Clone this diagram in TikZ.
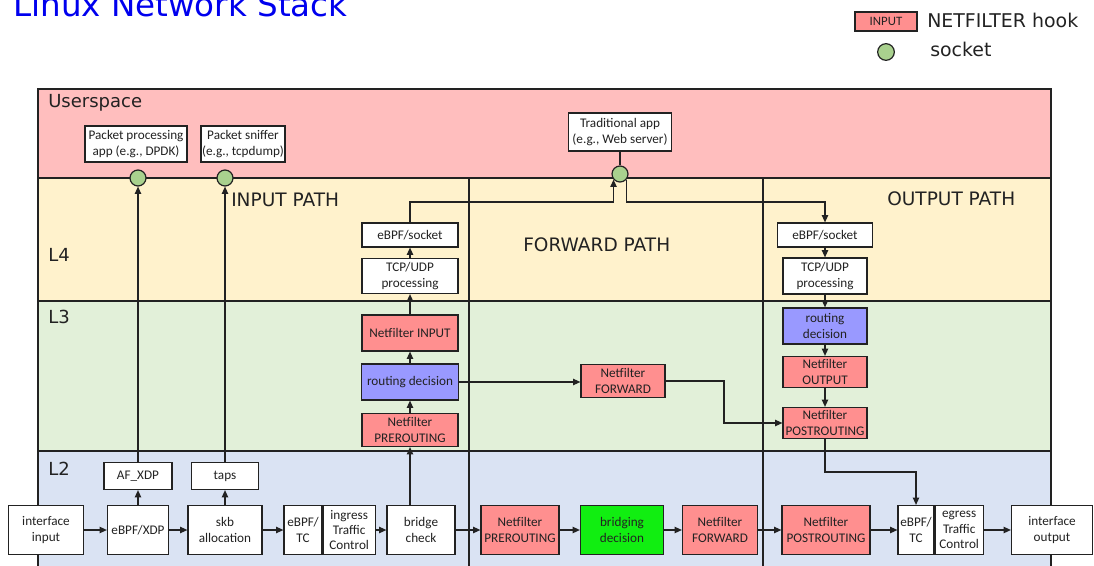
\documentclass[tikz,border=0pt]{standalone}
\usepackage{fontspec}
\setmainfont{Carlito}
\newfontfamily\verd{DejaVu Sans}
\usetikzlibrary{arrows.meta}

\definecolor{userpink}{HTML}{FFBEBE}
\definecolor{lfourbg}{HTML}{FFF2CC}
\definecolor{lthreebg}{HTML}{E2F0D9}
\definecolor{ltwobg}{HTML}{DAE3F3}
\definecolor{nfred}{HTML}{FF8F8F}
\definecolor{rtblue}{HTML}{9999FF}
\definecolor{brgreen}{HTML}{11EE11}
\definecolor{sockgreen}{HTML}{A9D18E}
\definecolor{titleblue}{HTML}{0000EE}
\definecolor{ink}{HTML}{222222}

\newcommand\bxfont{\fontsize{9.9}{11.6}\selectfont}
\newcommand\bandfont{\verd\fontsize{13.5}{16}\selectfont}
\newcommand\pathfont{\verd\fontsize{13.9}{16}\selectfont}

\tikzset{
  band/.style={draw=ink,line width=1pt},
  divider/.style={draw=ink,line width=1pt},
  wh/.style 2 args={minimum width=#1*0.75pt,minimum height=#2*0.75pt},
  box/.style={draw=ink,fill=white,line width=0.9pt,inner sep=0pt,align=center,font=\bxfont,text=ink},
  nf/.style={box,fill=nfred},
  rt/.style={box,fill=rtblue},
  brg/.style={box,fill=brgreen},
  sock/.style={circle,draw=ink,fill=sockgreen,line width=0.9pt,minimum size=12pt,inner sep=0pt},
  arr/.style={draw=ink,line width=0.9pt,-{Triangle[length=5.5pt,width=4.8pt]}},
  line/.style={draw=ink,line width=0.9pt},
  lbl/.style={inner sep=0pt,anchor=base west,text=ink}
}

\begin{document}
\begin{tikzpicture}[x=0.75pt,y=-0.75pt]

\path[use as bounding box,clip] (0,0) rectangle (1094,566);

% layer bands
\path[band,fill=userpink] (38,89) rectangle (1051,178);
\path[band,fill=lfourbg] (38,178) rectangle (1051,301);
\path[band,fill=lthreebg] (38,301) rectangle (1051,451);
\path[band,fill=ltwobg] (38,451) rectangle (1051,590);

% path dividers
\path[divider] (469,178) -- (469,590);
\path[divider] (763,178) -- (763,590);

% title and legend
\node[lbl,text=titleblue,font=\verd\fontsize{24.4}{28}\selectfont] (title) at (13,17) {Linux Network Stack};
\node[nf,wh={62}{19},font=\fontsize{9.6}{11}\selectfont] (lgnf) at (886,21.5) {INPUT};
\node[lbl,font=\verd\fontsize{14.2}{17}\selectfont] (lgnftxt) at (927,27.5) {NETFILTER hook};
\node[sock,minimum size=12.5pt] (lgsock) at (886,52) {};
\node[lbl,font=\verd\fontsize{14.2}{17}\selectfont] (lgsocktxt) at (930,57) {socket};

% band and path labels
\node[lbl,font=\bandfont] (lus) at (48,108) {Userspace};
\node[lbl,font=\bandfont] (lfour) at (48,262) {L4};
\node[lbl,font=\bandfont] (lthree) at (48,323) {L3};
\node[lbl,font=\bandfont] (ltwo) at (48,475) {L2};
\node[lbl,font=\pathfont] (pin) at (231,207) {INPUT PATH};
\node[lbl,font=\pathfont] (pfwd) at (523,252) {FORWARD PATH};
\node[lbl,font=\pathfont] (pout) at (887,206) {OUTPUT PATH};

% userspace applications and sockets
\node[box,wh={102}{36}] (dpdk) at (136,144) {Packet processing\\app (e.g., DPDK)};
\node[box,wh={84}{36}] (sniff) at (243,144) {Packet sniffer\\(e.g., tcpdump)};
\node[box,wh={103}{38}] (trad) at (620,132) {Traditional app\\(e.g., Web server)};
\node[sock] (sock1) at (138,178) {};
\node[sock] (sock2) at (225,178) {};
\node[sock] (sock3) at (620,174) {};

% L4
\node[box,wh={96}{24}] (inebpf) at (410,235) {eBPF/socket};
\node[box,wh={96}{35}] (intcp) at (410,276) {TCP/UDP\\processing};
\node[box,wh={95}{24}] (outebpf) at (825,235) {eBPF/socket};
\node[box,wh={84}{36}] (outtcp) at (825,276) {TCP/UDP\\processing};

% L3
\node[nf,wh={96}{36}] (ininput) at (410,333) {Netfilter INPUT};
\node[rt,wh={97}{36}] (inroute) at (410,382) {routing decision};
\node[nf,wh={96}{33}] (inpre) at (410,430) {Netfilter\\PREROUTING};
\node[nf,wh={84}{33}] (fwd3) at (623,381) {Netfilter\\FORWARD};
\node[rt,wh={84}{36}] (outroute) at (825,326) {routing\\decision};
\node[nf,wh={84}{31}] (outnf) at (825,372) {Netfilter\\OUTPUT};
\node[nf,wh={84}{31}] (post3) at (825,423) {Netfilter\\POSTROUTING};

% L2
\node[box,wh={68}{27}] (afxdp) at (138,476) {AF\_XDP};
\node[box,wh={67}{27}] (taps) at (225,476) {taps};
\node[box,wh={75}{49}] (ifin) at (46,530) {interface\\input};
\node[box,wh={61}{49}] (xdp) at (138,530) {eBPF/XDP};
\node[box,wh={74}{49}] (skb) at (225,530) {skb\\allocation};
\node[box,wh={38}{49}] (intc) at (303,530) {eBPF/\\TC};
\node[box,wh={52}{49},anchor=west] (ingress) at (intc.east) {ingress\\Traffic\\Control};
\node[box,wh={68}{49}] (bridge) at (421,530) {bridge\\check};
\node[nf,wh={78}{49}] (pre2) at (520,530) {Netfilter\\PREROUTING};
\node[brg,wh={83}{49}] (bdec) at (622,530) {bridging\\decision};
\node[nf,wh={75}{49}] (fwd2) at (720,530) {Netfilter\\FORWARD};
\node[nf,wh={88}{49}] (post2) at (826,530) {Netfilter\\POSTROUTING};
\node[box,wh={36}{49}] (egtc) at (916,530) {eBPF/\\TC};
\node[box,wh={48}{49},anchor=west] (egress) at (egtc.east) {egress\\Traffic\\Control};
\node[box,wh={81}{49}] (ifout) at (1052,530) {interface\\output};

% helper levels for routed connectors
\coordinate (lvlsock) at (0,202);
\coordinate (lvlpost) at (0,472);
\coordinate (colfwd) at (724,0);

% L2 main chain
\path[arr] (ifin) -- (xdp);
\path[arr] (xdp) -- (skb);
\path[arr] (skb) -- (intc);
\path[arr] (ingress) -- (bridge);
\path[arr] (bridge) -- (pre2);
\path[arr] (pre2) -- (bdec);
\path[arr] (bdec) -- (fwd2);
\path[arr] (fwd2) -- (post2);
\path[arr] (post2) -- (egtc);
\path[arr] (egress) -- (ifout);

% early taps to userspace
\path[arr] (xdp.north) -- (afxdp.south);
\path[arr] (afxdp.north) -- (sock1.south);
\path[arr] (skb.north) -- (taps.south);
\path[arr] (taps.north) -- (sock2.south);

% input path
\path[arr] (bridge.north -| inpre.south) -- (inpre.south);
\path[arr] (inpre) -- (inroute);
\path[arr] (inroute) -- (ininput);
\path[arr] (ininput) -- (intcp);
\path[arr] (intcp) -- (inebpf);
\path[arr] (inebpf.north) -- (inebpf.north |- lvlsock) -- (sock3.221 |- lvlsock) -- (sock3.221);
\path[line] (trad.south) -- (sock3.north);

% forward path
\path[arr] (inroute) -- (fwd3.west |- inroute.east);
\path[arr] (fwd3.east) -- (fwd3.east -| colfwd) |- (post3.west);

% output path
\path[arr] (sock3.319) -- (sock3.319 |- lvlsock) -| (outebpf.north);
\path[arr] (outebpf) -- (outtcp);
\path[arr] (outtcp) -- (outroute);
\path[arr] (outroute) -- (outnf);
\path[arr] (outnf) -- (post3);
\path[arr] (post3.south) -- (post3.south |- lvlpost) -| (egtc.north);

\end{tikzpicture}
\end{document}
